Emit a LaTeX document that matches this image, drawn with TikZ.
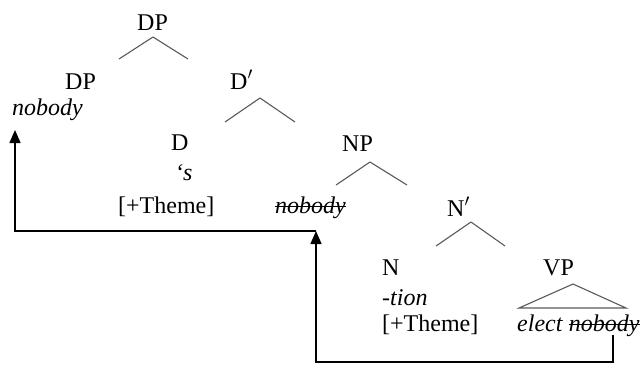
\documentclass[tikz,border=0pt]{standalone}
\usepackage{fontspec}
\setmainfont{Liberation Serif}
\usetikzlibrary{arrows.meta,calc}
\begin{document}
\begin{tikzpicture}[x=1pt,y=-1pt,
  lbl/.style={inner sep=0pt,anchor=base west,font=\fontsize{24}{28}\selectfont},
  branch/.style={draw=black!65,line width=1.1pt},
  strike/.style={draw=black,line width=1.3pt},
  move/.style={draw=black,line width=1.5pt,-{Triangle[length=13pt,width=11pt]}}]
\useasboundingbox (0,0) rectangle (642,365);

% labels
\node[lbl] (dptop) at (137,30) {DP};
\node[lbl] (dpspec) at (65,89) {DP};
\node[lbl] (nob1) at (12,115) {\itshape nobody};
\node[lbl] (dbar) at (230,89) {D$'$};
\node[lbl] (d) at (171,150) {D};
\node[lbl] (poss) at (175,180) {\itshape ‘s};
\node[lbl] (th1) at (118,213) {[+Theme]};
\node[lbl] (nob2) at (275,213) {\itshape nobody};
\node[lbl] (np) at (342,151) {NP};
\node[lbl] (nbar) at (447,216) {N$'$};
\node[lbl] (n) at (382,275) {N};
\node[lbl] (tion) at (382,305) {\itshape -tion};
\node[lbl] (th2) at (382,331) {[+Theme]};
\node[lbl] (vp) at (543,275) {VP};
\node[lbl] (elect) at (517,331) {\itshape elect};
\node[lbl,anchor=base west] (nob3) at ([xshift=6pt]elect.base east) {\itshape nobody};

% strike-through of the lower copies
\draw[strike] ([yshift=6.5pt]nob2.base west) -- ([yshift=6.5pt]nob2.base east);
\draw[strike] ([yshift=6.5pt]nob3.base west) -- ([yshift=6.5pt]nob3.base east);

% branches
\coordinate (a1) at (153,37);
\draw[branch] (a1) -- (119,59) (a1) -- (188,59);
\coordinate (a2) at (260,98);
\draw[branch] (a2) -- (225,122) (a2) -- (295,122);
\coordinate (a3) at (370,162);
\draw[branch] (a3) -- (336,185) (a3) -- (407,185);
\coordinate (a4) at (471,222);
\draw[branch] (a4) -- (436,246) (a4) -- (505,246);
\draw[branch] (573,284) -- (519,308) -- (626,308) -- cycle;

% movement arrows
\coordinate (s1) at (613,335);
\coordinate (t1) at (316,231);
\coordinate (t2) at (15,130);
\draw[move] (s1) -- (s1 |- 0,362) -- (t1 |- 0,362) -- (t1);
\draw[move] (316,231) -- (t2 |- 0,231) -- (t2);
\end{tikzpicture}
\end{document}
